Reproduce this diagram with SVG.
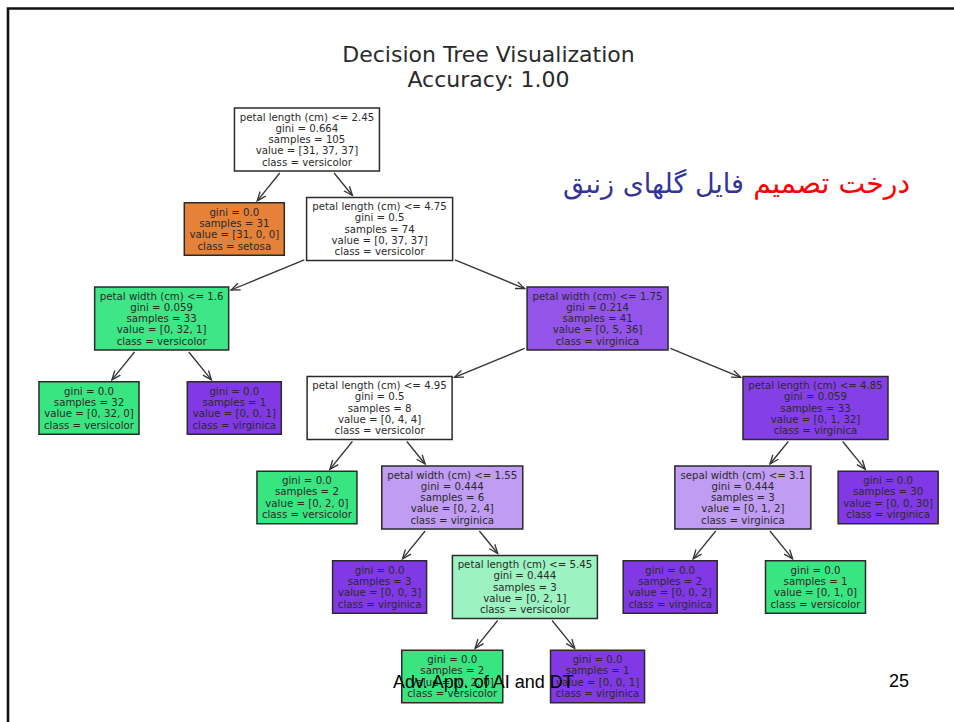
<svg xmlns="http://www.w3.org/2000/svg" width="954" height="722" viewBox="0 0 954 722">
<style>
.box{stroke:#2a2a2a;stroke-width:1.5}
.nt{font-family:"DejaVu Sans",sans-serif;font-size:10.2px;fill:#2a2a2a;text-anchor:middle}
.ttl{font-family:"DejaVu Sans",sans-serif;font-size:22px;fill:#2a2a2a;text-anchor:middle}
.edge{stroke:#333;stroke-width:1.3;fill:none;marker-end:url(#ah)}
.ft{font-family:"Liberation Sans",Arial,sans-serif;font-size:18px;fill:#000}
.fa{font-family:"DejaVu Sans",sans-serif;font-size:27px;text-anchor:end}
.w{fill:#ffffff}.o{fill:#e58139}.g{fill:#39e581}.p{fill:#8139e5}
</style>
<defs>
<marker id="ah" viewBox="0 -5 10 10" refX="9" refY="0" markerWidth="10" markerHeight="10" markerUnits="userSpaceOnUse" orient="auto" overflow="visible">
<path d="M0,-3.6 L9,0 L0,3.6" fill="none" stroke="#333" stroke-width="1.3"/>
</marker>
</defs>
<rect x="0" y="0" width="954" height="722" fill="#fff"/>
<g id="frame"><path d="M8,722 V8.5 H954" fill="none" stroke="#111" stroke-width="2.6"/></g>
<g id="title">
<text class="ttl" x="488.5" y="62">Decision Tree Visualization</text>
<text class="ttl" x="488.5" y="87">Accuracy: 1.00</text>
</g>
<g id="persian">
<text class="fa" x="910" y="193" fill="#ff0000" style="font-size:28.3px">درخت تصمیم</text>
<text class="fa" x="744" y="193" fill="#333399">فایل گلهای زنبق</text>
</g>
<g id="connectors">
<line class="edge" x1="279.8" y1="173.0" x2="257.2" y2="200.8"/>
<line class="edge" x1="334.1" y1="173.0" x2="352.4" y2="195.5"/>
<line class="edge" x1="304.3" y1="259.9" x2="231.0" y2="290.0"/>
<line class="edge" x1="454.9" y1="259.9" x2="524.7" y2="288.6"/>
<line class="edge" x1="134.5" y1="352.0" x2="111.9" y2="379.8"/>
<line class="edge" x1="188.8" y1="352.0" x2="211.4" y2="379.8"/>
<line class="edge" x1="524.7" y1="348.4" x2="454.4" y2="377.3"/>
<line class="edge" x1="670.4" y1="348.4" x2="740.7" y2="377.3"/>
<line class="edge" x1="352.4" y1="441.5" x2="329.8" y2="469.3"/>
<line class="edge" x1="406.8" y1="441.5" x2="425.1" y2="464.0"/>
<line class="edge" x1="425.1" y1="531.0" x2="402.5" y2="558.8"/>
<line class="edge" x1="479.4" y1="531.0" x2="497.7" y2="553.5"/>
<line class="edge" x1="497.7" y1="620.5" x2="475.1" y2="648.3"/>
<line class="edge" x1="552.1" y1="620.5" x2="574.7" y2="648.3"/>
<line class="edge" x1="788.3" y1="441.5" x2="770.0" y2="464.0"/>
<line class="edge" x1="842.7" y1="441.5" x2="865.3" y2="469.3"/>
<line class="edge" x1="715.7" y1="531.0" x2="693.1" y2="558.8"/>
<line class="edge" x1="770.0" y1="531.0" x2="792.6" y2="558.8"/>
</g>
<g id="n0"><rect class="box w" x="234.45" y="108" width="145" height="63"/>
<text class="nt"><tspan x="306.95" y="120.5">petal length (cm) &lt;= 2.45</tspan><tspan x="306.95" y="131.8">gini = 0.664</tspan><tspan x="306.95" y="143.1">samples = 105</tspan><tspan x="306.95" y="154.4">value = [31, 37, 37]</tspan><tspan x="306.95" y="165.7">class = versicolor</tspan></text></g>
<g id="n1"><rect class="box o" x="184.3" y="202.75" width="100" height="52.5"/>
<text class="nt"><tspan x="234.3" y="215.65">gini = 0.0</tspan><tspan x="234.3" y="226.95">samples = 31</tspan><tspan x="234.3" y="238.25">value = [31, 0, 0]</tspan><tspan x="234.3" y="249.55">class = setosa</tspan></text></g>
<g id="n2"><rect class="box w" x="306.6" y="197.5" width="146" height="63"/>
<text class="nt"><tspan x="379.6" y="210">petal length (cm) &lt;= 4.75</tspan><tspan x="379.6" y="221.3">gini = 0.5</tspan><tspan x="379.6" y="232.6">samples = 74</tspan><tspan x="379.6" y="243.9">value = [0, 37, 37]</tspan><tspan x="379.6" y="255.2">class = versicolor</tspan></text></g>
<g id="n3"><rect class="box" fill="#3fe685" x="94.65" y="287" width="134" height="63"/>
<text class="nt"><tspan x="161.65" y="299.5">petal width (cm) &lt;= 1.6</tspan><tspan x="161.65" y="310.8">gini = 0.059</tspan><tspan x="161.65" y="322.1">samples = 33</tspan><tspan x="161.65" y="333.4">value = [0, 32, 1]</tspan><tspan x="161.65" y="344.7">class = versicolor</tspan></text></g>
<g id="n4"><rect class="box g" x="39" y="381.75" width="100" height="52.5"/>
<text class="nt"><tspan x="89" y="394.65">gini = 0.0</tspan><tspan x="89" y="405.95">samples = 32</tspan><tspan x="89" y="417.25">value = [0, 32, 0]</tspan><tspan x="89" y="428.55">class = versicolor</tspan></text></g>
<g id="n5"><rect class="box p" x="187.3" y="381.75" width="94" height="52.5"/>
<text class="nt"><tspan x="234.3" y="394.65">gini = 0.0</tspan><tspan x="234.3" y="405.95">samples = 1</tspan><tspan x="234.3" y="417.25">value = [0, 0, 1]</tspan><tspan x="234.3" y="428.55">class = virginica</tspan></text></g>
<g id="n6"><rect class="box" fill="#9254e9" x="527.05" y="287" width="141" height="63"/>
<text class="nt"><tspan x="597.55" y="299.5">petal width (cm) &lt;= 1.75</tspan><tspan x="597.55" y="310.8">gini = 0.214</tspan><tspan x="597.55" y="322.1">samples = 41</tspan><tspan x="597.55" y="333.4">value = [0, 5, 36]</tspan><tspan x="597.55" y="344.7">class = virginica</tspan></text></g>
<g id="n7"><rect class="box w" x="307.1" y="376.5" width="145" height="63"/>
<text class="nt"><tspan x="379.6" y="389">petal length (cm) &lt;= 4.95</tspan><tspan x="379.6" y="400.3">gini = 0.5</tspan><tspan x="379.6" y="411.6">samples = 8</tspan><tspan x="379.6" y="422.9">value = [0, 4, 4]</tspan><tspan x="379.6" y="434.2">class = versicolor</tspan></text></g>
<g id="n8"><rect class="box g" x="256.95" y="471.25" width="100" height="52.5"/>
<text class="nt"><tspan x="306.95" y="484.15">gini = 0.0</tspan><tspan x="306.95" y="495.45">samples = 2</tspan><tspan x="306.95" y="506.75">value = [0, 2, 0]</tspan><tspan x="306.95" y="518.05">class = versicolor</tspan></text></g>
<g id="n9"><rect class="box" fill="#c09cf2" x="381.75" y="466" width="141" height="63"/>
<text class="nt"><tspan x="452.25" y="478.5">petal width (cm) &lt;= 1.55</tspan><tspan x="452.25" y="489.8">gini = 0.444</tspan><tspan x="452.25" y="501.1">samples = 6</tspan><tspan x="452.25" y="512.4">value = [0, 2, 4]</tspan><tspan x="452.25" y="523.7">class = virginica</tspan></text></g>
<g id="n10"><rect class="box p" x="332.6" y="560.75" width="94" height="52.5"/>
<text class="nt"><tspan x="379.6" y="573.65">gini = 0.0</tspan><tspan x="379.6" y="584.95">samples = 3</tspan><tspan x="379.6" y="596.25">value = [0, 0, 3]</tspan><tspan x="379.6" y="607.55">class = virginica</tspan></text></g>
<g id="n11"><rect class="box" fill="#9cf2c0" x="452.4" y="555.5" width="145" height="63"/>
<text class="nt"><tspan x="524.9" y="568">petal length (cm) &lt;= 5.45</tspan><tspan x="524.9" y="579.3">gini = 0.444</tspan><tspan x="524.9" y="590.6">samples = 3</tspan><tspan x="524.9" y="601.9">value = [0, 2, 1]</tspan><tspan x="524.9" y="613.2">class = versicolor</tspan></text></g>
<g id="n12"><rect class="box g" x="401.75" y="650.25" width="101" height="52.5"/>
<text class="nt"><tspan x="452.25" y="663.15">gini = 0.0</tspan><tspan x="452.25" y="674.45">samples = 2</tspan><tspan x="452.25" y="685.75">value = [0, 2, 0]</tspan><tspan x="452.25" y="697.05">class = versicolor</tspan></text></g>
<g id="n13"><rect class="box p" x="550.55" y="650.25" width="94" height="52.5"/>
<text class="nt"><tspan x="597.55" y="663.15">gini = 0.0</tspan><tspan x="597.55" y="674.45">samples = 1</tspan><tspan x="597.55" y="685.75">value = [0, 0, 1]</tspan><tspan x="597.55" y="697.05">class = virginica</tspan></text></g>
<g id="n14"><rect class="box" fill="#853fe6" x="743" y="376.5" width="145" height="63"/>
<text class="nt"><tspan x="815.5" y="389">petal length (cm) &lt;= 4.85</tspan><tspan x="815.5" y="400.3">gini = 0.059</tspan><tspan x="815.5" y="411.6">samples = 33</tspan><tspan x="815.5" y="422.9">value = [0, 1, 32]</tspan><tspan x="815.5" y="434.2">class = virginica</tspan></text></g>
<g id="n15"><rect class="box" fill="#c09cf2" x="674.85" y="466" width="136" height="63"/>
<text class="nt"><tspan x="742.85" y="478.5">sepal width (cm) &lt;= 3.1</tspan><tspan x="742.85" y="489.8">gini = 0.444</tspan><tspan x="742.85" y="501.1">samples = 3</tspan><tspan x="742.85" y="512.4">value = [0, 1, 2]</tspan><tspan x="742.85" y="523.7">class = virginica</tspan></text></g>
<g id="n16"><rect class="box p" x="838.15" y="471.25" width="100" height="52.5"/>
<text class="nt"><tspan x="888.15" y="484.15">gini = 0.0</tspan><tspan x="888.15" y="495.45">samples = 30</tspan><tspan x="888.15" y="506.75">value = [0, 0, 30]</tspan><tspan x="888.15" y="518.05">class = virginica</tspan></text></g>
<g id="n17"><rect class="box p" x="623.2" y="560.75" width="94" height="52.5"/>
<text class="nt"><tspan x="670.2" y="573.65">gini = 0.0</tspan><tspan x="670.2" y="584.95">samples = 2</tspan><tspan x="670.2" y="596.25">value = [0, 0, 2]</tspan><tspan x="670.2" y="607.55">class = virginica</tspan></text></g>
<g id="n18"><rect class="box g" x="765.5" y="560.75" width="100" height="52.5"/>
<text class="nt"><tspan x="815.5" y="573.65">gini = 0.0</tspan><tspan x="815.5" y="584.95">samples = 1</tspan><tspan x="815.5" y="596.25">value = [0, 1, 0]</tspan><tspan x="815.5" y="607.55">class = versicolor</tspan></text></g>
<g id="footer">
<text class="ft" x="393" y="688">Adv. App. of AI and DT</text>
<text class="ft" x="889" y="687">25</text>
</g>
</svg>
